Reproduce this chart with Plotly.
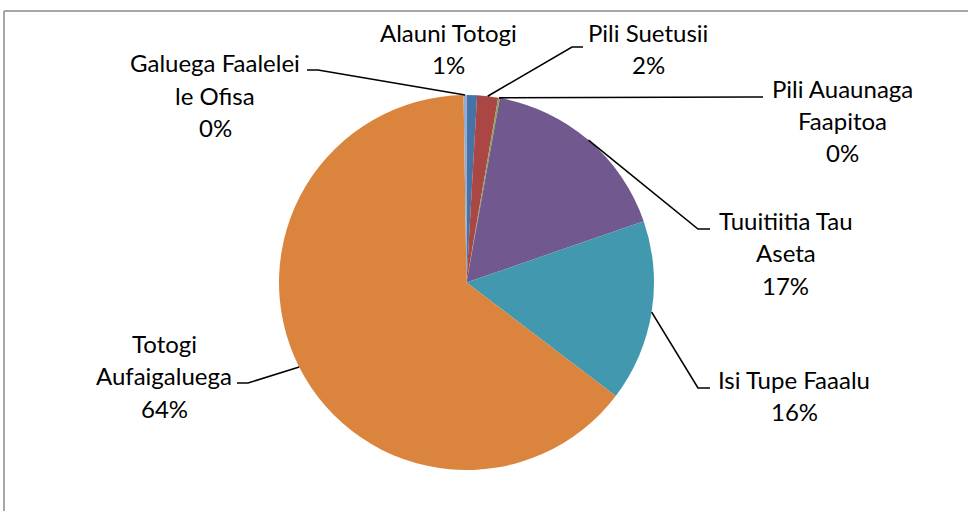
import math
import plotly.graph_objects as go

# ---- data (clockwise from 12 o'clock) ----
categories = ["Alauni Totogi", "Pili Suetusii", "Pili Auaunaga Faapitoa",
              "Tuuitiitia Tau Aseta", "Isi Tupe Faaalu", "Totogi Aufaigaluega",
              "Galuega Faalelei le Ofisa"]
values = [0.9, 1.8, 0.15, 16.85, 15.65, 64.4, 0.25]
# label lines (how the category names wrap in the chart)
label_lines = [["Alauni Totogi"], ["Pili Suetusii"], ["Pili Auaunaga", "Faapitoa"],
               ["Tuuitiitia Tau", "Aseta"], ["Isi Tupe Faaalu"], ["Totogi", "Aufaigaluega"],
               ["Galuega Faalelei", "le Ofisa"]]
colors = ["#4572A7", "#AA4643", "#89A54E", "#71588F", "#4198AF", "#DB843D", "#93A9D0"]

# ---- layout (pixels) ----
W, H = 968, 511
CX, CY, R = 466.5, 282.5, 187.5
FONT = "Lato"
FS = 24
LH = 32.5

# label block: (center x, y of first line center)
label_pos = [(448, 32.5), (648, 32.5), (842, 88), (785.5, 220), (794, 379),
             (164, 343), (215, 62.5)]
# leader lines: list of (elbow, end) points or None
leaders = [None, [(572, 47), (583, 47)], [(752, 97), (763, 97)],
           [(698, 229), (710, 229)], [(698, 388), (710, 388)],
           [(248, 383), (237, 383)], [(318, 70), (307, 70)]]

def px(x):
    return x / W

def py(y):
    return 1 - y / H

fig = go.Figure(go.Pie(
    labels=categories, values=values, sort=False, direction="clockwise",
    rotation=0, textinfo="none", hoverinfo="skip",
    marker=dict(colors=colors, line=dict(width=0)),
    domain=dict(x=[px(CX - R), px(CX + R)], y=[py(CY + R), py(CY - R)]),
    showlegend=False,
))

total = sum(values)
annotations = []
shapes = []
cum = 0.0
for i, v in enumerate(values):
    mid = (cum + v / 2) / total * 2 * math.pi
    cum += v
    ex = CX + R * math.sin(mid)
    ey = CY - R * math.cos(mid)
    pct = f"{round(v / total * 100)}%"
    lines = label_lines[i] + [pct]
    lx, ly = label_pos[i]
    for k, t in enumerate(lines):
        annotations.append(dict(
            x=px(lx), y=py(ly + k * LH), xref="paper", yref="paper",
            text=t, showarrow=False, xanchor="center", yanchor="middle",
            font=dict(family=FONT, size=FS, color="#000000")))
    if leaders[i]:
        (bx, by), (tx, ty) = leaders[i]
        shapes.append(dict(
            type="path", xref="paper", yref="paper",
            path=f"M {px(ex)} {py(ey)} L {px(bx)} {py(by)} L {px(tx)} {py(ty)}",
            line=dict(color="#000000", width=1.6)))

# chart border (Excel chart area frame)
shapes.append(dict(type="line", xref="paper", yref="paper",
                   x0=px(4), x1=1.0, y0=py(11), y1=py(11),
                   line=dict(color="#8A8A8A", width=1.5)))
shapes.append(dict(type="line", xref="paper", yref="paper",
                   x0=px(4), x1=px(4), y0=py(11), y1=0,
                   line=dict(color="#8A8A8A", width=1.5)))

fig.update_layout(
    width=W, height=H, margin=dict(l=0, r=0, t=0, b=0),
    paper_bgcolor="white", plot_bgcolor="white",
    annotations=annotations, shapes=shapes,
)

fig.write_html("out.html", config={"displayModeBar": False},
               post_script="document.body.style.margin='0px';")
